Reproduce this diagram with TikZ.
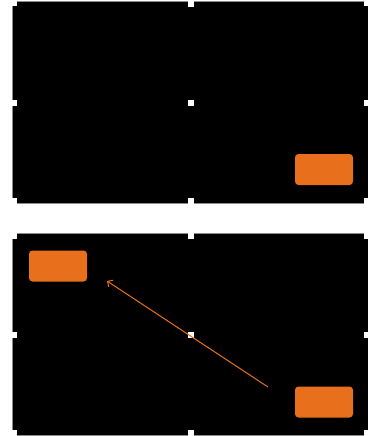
\documentclass[tikz,border=0pt]{standalone}
\usetikzlibrary{arrows.meta}
\definecolor{orng}{HTML}{E8701C}
\begin{document}
\begin{tikzpicture}[x=1pt,y=-1pt,
  panel/.style={draw=black!45,line width=0.5pt,fill=black,minimum width=357pt,minimum height=201.5pt,inner sep=0pt},
  notch/.style={fill=white},
  obox/.style={fill=orng,rounded corners=3.5pt,minimum width=58pt,minimum height=31pt,inner sep=0pt},
  mover/.style={draw=orng,line width=1pt,-{Straight Barb[length=4pt,width=8pt]}}]
\useasboundingbox (0,0) rectangle (367,436);
\foreach \oy/\nm in {0/pa,232/pb}{
  \begin{scope}[yshift=-\oy pt]
    \node[panel,name=\nm] at (190.5,102.25) {};
    \fill[notch] (11.5,1) rectangle (17,6.5);
    \fill[notch] (364,1) rectangle (370,6.5);
    \fill[notch] (11.5,197.5) rectangle (17,203.5);
    \fill[notch] (364,197.5) rectangle (370,203.5);
    \fill[notch] (188,1) rectangle (194,7);
    \fill[notch] (188,197.5) rectangle (194,203.5);
    \fill[notch] (11.5,99.5) rectangle (17,105.5);
    \fill[notch] (364,99.5) rectangle (370,105.5);
    \fill[notch] (188,99.5) rectangle (194,105.5);
  \end{scope}
}
\node[obox] (b1) at (324,169.5) {};
\node[obox] (b2) at (58,266) {};
\node[obox] (b3) at (324,402) {};
\coordinate (as) at (268,387);
\coordinate (ae) at (107,281);
\draw[mover] (as) -- (ae);
\end{tikzpicture}
\end{document}
